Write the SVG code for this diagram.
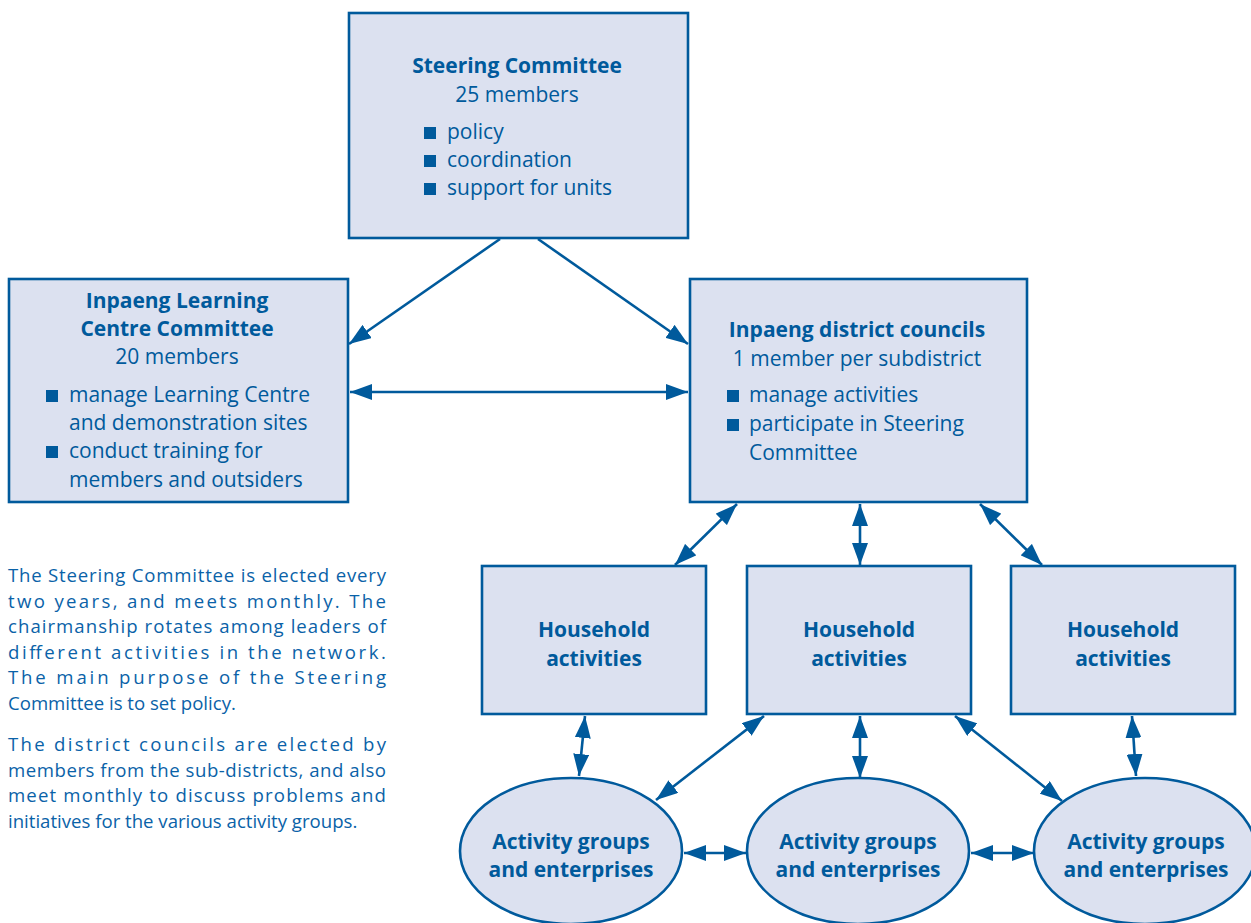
<svg xmlns="http://www.w3.org/2000/svg" width="1251" height="923" viewBox="0 0 1251 923">
<style>
.box{fill:#dce1f0;stroke:#005a9c;stroke-width:2.6}
.t{font-family:"Open Sans","Noto Sans","DejaVu Sans",sans-serif;font-size:21px;fill:#005a9c}
.b{font-weight:bold}
.c{text-anchor:middle}
.p{font-family:"Open Sans","Noto Sans","DejaVu Sans",sans-serif;font-size:18.6px;fill:#0a62a8}
.sq{fill:#005a9c}
.cn line{stroke:#005a9c;stroke-width:2.6;marker-end:url(#ah)}
.cn line.d{marker-start:url(#ah)}
</style>
<defs>
<marker id="ah" markerUnits="userSpaceOnUse" markerWidth="22" markerHeight="16" refX="22" refY="8" orient="auto-start-reverse" viewBox="0 0 22 16">
<path d="M0,0 L22,8 L0,16 z" fill="#005a9c"/>
</marker>
</defs>
<rect width="1251" height="923" fill="#ffffff"/>

<g id="steering">
<rect class="box" x="349" y="13" width="339" height="225"/>
<text class="t b c" x="517" y="73">Steering Committee</text>
<text class="t c" x="517" y="102">25 members</text>
<rect class="sq" x="424" y="127" width="12" height="12"/>
<text class="t" x="447" y="139">policy</text>
<rect class="sq" x="424" y="155" width="12" height="12"/>
<text class="t" x="447" y="167">coordination</text>
<rect class="sq" x="424" y="183" width="12" height="12"/>
<text class="t" x="447" y="195">support for units</text>
</g>

<g id="learning">
<rect class="box" x="9" y="279" width="339" height="223"/>
<text class="t b c" x="177" y="308">Inpaeng Learning</text>
<text class="t b c" x="177" y="336">Centre Committee</text>
<text class="t c" x="177" y="364">20 members</text>
<rect class="sq" x="46" y="390" width="12" height="12"/>
<text class="t" x="69" y="402">manage Learning Centre</text>
<text class="t" x="69" y="430">and demonstration sites</text>
<rect class="sq" x="46" y="446" width="12" height="12"/>
<text class="t" x="69" y="458">conduct training for</text>
<text class="t" x="69" y="487">members and outsiders</text>
</g>

<g id="district">
<rect class="box" x="690" y="279" width="337" height="223"/>
<text class="t b c" x="857" y="337">Inpaeng district councils</text>
<text class="t c" x="857" y="366">1 member per subdistrict</text>
<rect class="sq" x="727" y="390" width="12" height="12"/>
<text class="t" x="749" y="402">manage activities</text>
<rect class="sq" x="727" y="419" width="12" height="12"/>
<text class="t" x="749" y="431">participate in Steering</text>
<text class="t" x="749" y="460">Committee</text>
</g>

<g id="household1">
<rect class="box" x="482" y="566" width="224" height="148"/>
<text class="t b c" x="594" y="637">Household</text>
<text class="t b c" x="594" y="666">activities</text>
</g>
<g id="household2">
<rect class="box" x="747" y="566" width="224" height="148"/>
<text class="t b c" x="859" y="637">Household</text>
<text class="t b c" x="859" y="666">activities</text>
</g>
<g id="household3">
<rect class="box" x="1011" y="566" width="224" height="148"/>
<text class="t b c" x="1123" y="637">Household</text>
<text class="t b c" x="1123" y="666">activities</text>
</g>

<g id="activity1">
<ellipse class="box" cx="571" cy="851" rx="111" ry="73"/>
<text class="t b c" x="571" y="849">Activity groups</text>
<text class="t b c" x="571" y="877">and enterprises</text>
</g>
<g id="activity2">
<ellipse class="box" cx="858" cy="851" rx="111" ry="73"/>
<text class="t b c" x="858" y="849">Activity groups</text>
<text class="t b c" x="858" y="877">and enterprises</text>
</g>
<g id="activity3">
<ellipse class="box" cx="1145" cy="851" rx="111" ry="73"/>
<text class="t b c" x="1146" y="849">Activity groups</text>
<text class="t b c" x="1146" y="877">and enterprises</text>
</g>

<g id="connectors" class="cn">
<line x1="500" y1="239" x2="349" y2="344"/>
<line x1="538" y1="239" x2="688" y2="344"/>
<line class="d" x1="350" y1="392" x2="688" y2="392"/>
<line class="d" x1="737" y1="504" x2="675" y2="565"/>
<line class="d" x1="860" y1="504" x2="860" y2="565"/>
<line class="d" x1="980" y1="504" x2="1042" y2="565"/>
<line class="d" x1="585" y1="716" x2="579" y2="776"/>
<line class="d" x1="764" y1="716" x2="656" y2="800"/>
<line class="d" x1="860" y1="716" x2="860" y2="778"/>
<line class="d" x1="955" y1="716" x2="1062" y2="801"/>
<line class="d" x1="1132" y1="716" x2="1136" y2="776"/>
<line class="d" x1="684" y1="853" x2="746" y2="853"/>
<line class="d" x1="971" y1="853" x2="1034" y2="853"/>
</g>

<g id="notes">
<text class="p" x="8" y="582" textLength="378" lengthAdjust="spacing">The Steering Committee is elected every</text>
<text class="p" x="8" y="608" textLength="378" lengthAdjust="spacing">two years, and meets monthly. The</text>
<text class="p" x="8" y="633" textLength="378" lengthAdjust="spacing">chairmanship rotates among leaders of</text>
<text class="p" x="8" y="659" textLength="378" lengthAdjust="spacing">different activities in the network.</text>
<text class="p" x="8" y="684" textLength="378" lengthAdjust="spacing">The main purpose of the Steering</text>
<text class="p" x="8" y="710">Committee is to set policy.</text>
<text class="p" x="8" y="751" textLength="378" lengthAdjust="spacing">The district councils are elected by</text>
<text class="p" x="8" y="777" textLength="378" lengthAdjust="spacing">members from the sub-districts, and also</text>
<text class="p" x="8" y="802" textLength="378" lengthAdjust="spacing">meet monthly to discuss problems and</text>
<text class="p" x="8" y="828">initiatives for the various activity groups.</text>
</g>
</svg>
